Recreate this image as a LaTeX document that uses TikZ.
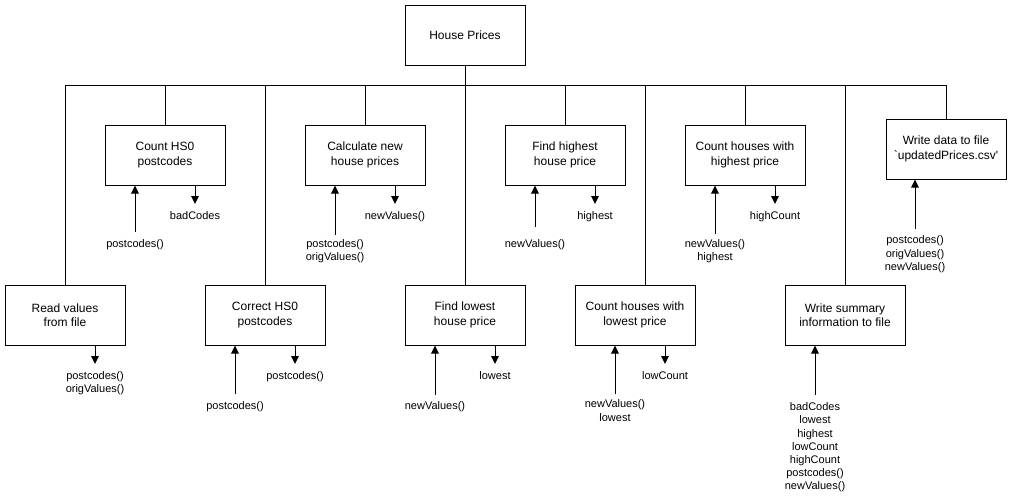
\documentclass[tikz,border=0pt]{standalone}
\usepackage{fontspec}
\newfontfamily\arial{Liberation Sans}
\usetikzlibrary{arrows.meta}
\begin{document}
\begin{tikzpicture}[x=1pt,y=-1pt,
  box/.style={draw,line width=1pt,minimum width=120pt,minimum height=60pt,
    inner sep=0pt,align=center,font=\arial\fontsize{12}{14.5}\selectfont},
  lbl/.style={anchor=north,inner sep=0pt,outer sep=0pt,align=center,
    font=\arial\fontsize{11}{13.2}\selectfont},
  wire/.style={line width=1pt},
  arr/.style={line width=1pt,-{Triangle[width=7.5pt,length=8pt]}}]
\useasboundingbox (0,0) rectangle (1011,501);

% structure chart boxes
\node[box] (root)  at (465,35)  {House Prices};
\node[box] (read)  at (65,315)  {Read values\\from file};
\node[box] (count) at (165,155) {Count HS0\\postcodes};
\node[box] (corr)  at (265,315) {Correct HS0\\postcodes};
\node[box] (calc)  at (365,155) {Calculate new\\house prices};
\node[box] (low)   at (465,315) {Find lowest\\house price};
\node[box] (high)  at (565,155) {Find highest\\house price};
\node[box] (lowc)  at (635,315) {Count houses with\\lowest price};
\node[box] (highc) at (745,155) {Count houses with\\highest price};
\node[box] (summ)  at (845,315) {Write summary\\information to file};
\node[box] (write) at (946,149) {Write data to file\\`updatedPrices.csv'};

% bus joining the modules to the top box
\coordinate (hub) at (465,85);
\draw[wire] (root.south) -- (hub);
\draw[wire] (read.north) |- (write.north |- hub) -- (write.north);
\draw[wire] (count.north |- hub) -- (count.north);
\draw[wire] (corr.north |- hub) -- (corr.north);
\draw[wire] (calc.north |- hub) -- (calc.north);
\draw[wire] (hub) -- (low.north);
\draw[wire] (high.north |- hub) -- (high.north);
\draw[wire] ([xshift=10pt]lowc.north |- hub) -- ([xshift=10pt]lowc.north);
\draw[wire] (highc.north |- hub) -- (highc.north);
\draw[wire] (summ.north |- hub) -- (summ.north);

% data flowing out of modules
\node[lbl] (o1) at (195,211.7) {badCodes};
\node[lbl] (o2) at (395,211.7) {newValues()};
\node[lbl] (o3) at (595,211.7) {highest};
\node[lbl] (o4) at (775,211.7) {highCount};
\node[lbl] (o5) at (95,371.7)  {postcodes()\\origValues()};
\node[lbl] (o6) at (295,371.7) {postcodes()};
\node[lbl] (o7) at (495,371.7) {lowest};
\node[lbl] (o8) at (665,371.7) {lowCount};
\draw[arr] (o1.north |- count.south) -- ([yshift=7.7pt]o1.north);
\draw[arr] (o2.north |- calc.south)  -- ([yshift=7.7pt]o2.north);
\draw[arr] (o3.north |- high.south)  -- ([yshift=7.7pt]o3.north);
\draw[arr] (o4.north |- highc.south) -- ([yshift=7.7pt]o4.north);
\draw[arr] (o5.north |- read.south)  -- ([yshift=7.7pt]o5.north);
\draw[arr] (o6.north |- corr.south)  -- ([yshift=7.7pt]o6.north);
\draw[arr] (o7.north |- low.south)   -- ([yshift=7.7pt]o7.north);
\draw[arr] (o8.north |- lowc.south)  -- ([yshift=7.7pt]o8.north);

% data passed into modules
\node[lbl] (i1) at (135,239.3) {postcodes()};
\node[lbl] (i2) at (335,239.3) {postcodes()\\origValues()};
\node[lbl] (i3) at (535,240)   {newValues()};
\node[lbl] (i4) at (715,239.3) {newValues()\\highest};
\node[lbl] (i5) at (915,236)   {postcodes()\\origValues()\\newValues()};
\node[lbl] (i6) at (235,401.7) {postcodes()};
\node[lbl] (i7) at (435,401.5) {newValues()};
\node[lbl] (i8) at (615,400)   {newValues()\\lowest};
\node[lbl] (i9) at (815,402.7) {badCodes\\lowest\\highest\\lowCount\\highCount\\postcodes()\\newValues()};
\draw[arr] ([yshift=7.6pt]i1.north)  -- (i1.north |- count.south);
\draw[arr] ([yshift=4.3pt]i2.north)  -- (i2.north |- calc.south);
\draw[arr] ([yshift=13.5pt]i3.north) -- (i3.north |- high.south);
\draw[arr] ([yshift=5pt]i4.north)    -- (i4.north |- highc.south);
\draw[arr] ([yshift=7pt]i5.north)    -- (i5.north |- write.south);
\draw[arr] ([yshift=7.4pt]i6.north)  -- (i6.north |- corr.south);
\draw[arr] ([yshift=6.5pt]i7.north)  -- (i7.north |- low.south);
\draw[arr] ([yshift=5.7pt]i8.north)  -- (i8.north |- lowc.south);
\draw[arr] ([yshift=7.7pt]i9.north)  -- (i9.north |- summ.south);
\end{tikzpicture}
\end{document}
